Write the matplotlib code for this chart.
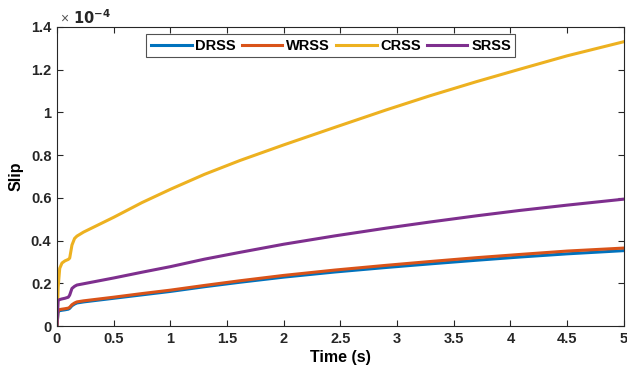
import matplotlib
matplotlib.use("Agg")
import matplotlib.pyplot as plt
from matplotlib.ticker import FuncFormatter, MultipleLocator

plt.rcParams['font.family'] = ['Liberation Sans', 'DejaVu Sans']
plt.rcParams['font.weight'] = 'bold'

time_s = [0, 0.01, 0.024, 0.044, 0.07, 0.10, 0.112, 0.132, 0.155, 0.176, 0.235, 0.5,
          0.75, 1.0, 1.3, 1.614, 2.0, 2.45, 2.9, 3.29, 3.7, 4.08, 4.5, 5.0]
drss = [0, 0.070, 0.072, 0.074, 0.076, 0.079, 0.083, 0.095, 0.103, 0.108, 0.113, 0.130,
        0.146, 0.162, 0.184, 0.205, 0.229, 0.253, 0.274, 0.291, 0.308, 0.323, 0.338, 0.353]
wrss = [0, 0.075, 0.077, 0.079, 0.081, 0.084, 0.088, 0.100, 0.108, 0.113, 0.118, 0.135,
        0.152, 0.168, 0.190, 0.212, 0.237, 0.262, 0.284, 0.302, 0.320, 0.335, 0.351, 0.365]
crss = [0, 0.180, 0.270, 0.295, 0.305, 0.312, 0.318, 0.379, 0.410, 0.421, 0.440, 0.509,
        0.578, 0.640, 0.710, 0.775, 0.848, 0.930, 1.011, 1.078, 1.144, 1.202, 1.265, 1.331]
srss = [0, 0.120, 0.124, 0.127, 0.130, 0.135, 0.145, 0.176, 0.186, 0.192, 0.198, 0.225,
        0.252, 0.278, 0.313, 0.345, 0.383, 0.422, 0.458, 0.487, 0.516, 0.541, 0.566, 0.594]
scale = 1e-4
series = [("DRSS", drss, "#0072BD"), ("WRSS", wrss, "#D95319"),
          ("CRSS", crss, "#EDB120"), ("SRSS", srss, "#7E2F8E")]

fig = plt.figure(figsize=(6.27, 3.8), dpi=100)
ax = fig.add_axes([0.0909, 0.142, 0.904, 0.787])
for name, vals, col in series:
    ax.plot(time_s, [v * scale for v in vals], color=col, lw=2.2, label=name,
            solid_joinstyle='round')

ax.set_xlim(0, 5)
ax.set_ylim(0, 1.4e-4)
ax.xaxis.set_major_locator(MultipleLocator(0.5))
ax.yaxis.set_major_locator(MultipleLocator(0.2e-4))
ax.xaxis.set_major_formatter(FuncFormatter(lambda v, p: f"{v:g}"))
ax.yaxis.set_major_formatter(FuncFormatter(lambda v, p: f"{round(v / scale, 2):g}"))
ax.tick_params(direction='in', top=True, right=True, length=4, width=0.8,
               labelsize=10.5, colors='#262626', pad=4)
for lab in ax.get_xticklabels() + ax.get_yticklabels():
    lab.set_fontweight('bold')
for s in ax.spines.values():
    s.set_color('#262626')
    s.set_linewidth(0.8)

ax.set_xlabel("Time (s)", fontsize=11.5, fontweight='bold', labelpad=3)
ax.set_ylabel("Slip", fontsize=11.5, fontweight='bold', labelpad=5)

ax.text(0.005, 1.005, "\u00d7", transform=ax.transAxes, fontsize=10, color='#555555',
        ha='left', va='bottom', fontweight='normal')
ax.text(0.028, 1.0, r"$\mathbf{10^{-4}}$", transform=ax.transAxes, fontsize=10.5,
        color='#262626', ha='left', va='bottom')

leg = ax.legend(loc='upper center', ncol=4, bbox_to_anchor=(0.483, 0.975),
                frameon=True, fancybox=False, edgecolor='#262626', fontsize=10.5,
                handlelength=2.8, handletextpad=0.25, columnspacing=0.4,
                borderpad=0.3, borderaxespad=0.0)
leg.get_frame().set_linewidth(0.8)
for t in leg.get_texts():
    t.set_fontweight('bold')

fig.savefig("out.png", dpi=100)
